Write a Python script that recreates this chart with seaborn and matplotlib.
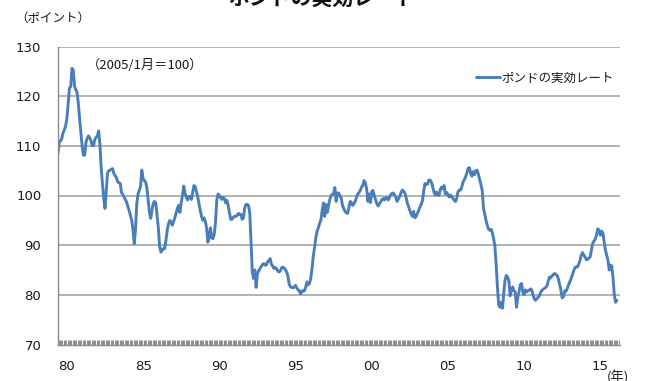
import numpy as np
import pandas as pd
import matplotlib
matplotlib.use("Agg")
import matplotlib.pyplot as plt
import matplotlib.transforms as mtransforms
import seaborn as sns

# Sterling effective exchange rate, monthly, Jan 1980 - Sep 2016 (2005/Jan = 100)
y1980 = [108.5, 110.8, 111.0, 111.5, 112.6, 113.2, 114.0, 115.5, 118.5, 121.6, 121.9, 125.6]
y1981 = [125.3, 122.0, 121.3, 120.8, 118.5, 115.5, 112.8, 110.0, 108.1, 108.1, 110.7, 111.5]
y1982 = [112.0, 111.6, 111.0, 110.0, 110.1, 111.3, 111.7, 112.0, 113.0, 110.3, 105.6, 102.3]
y1983 = [99.5, 97.4, 101.0, 104.5, 105.0, 105.1, 105.3, 105.4, 104.4, 104.0, 103.6, 102.7]
y1984 = [102.6, 102.4, 100.6, 100.2, 99.7, 99.2, 98.7, 97.8, 97.0, 96.0, 95.0, 93.3]
y1985 = [90.3, 93.0, 98.3, 100.3, 101.0, 101.8, 105.1, 103.4, 103.0, 102.7, 101.5, 99.0]
y1986 = [96.6, 95.4, 97.0, 98.4, 98.8, 98.5, 96.0, 93.5, 89.8, 88.6, 89.0, 89.3]
y1987 = [89.3, 91.0, 93.0, 94.3, 95.0, 94.5, 94.0, 94.8, 95.5, 96.5, 97.4, 98.0]
y1988 = [96.6, 98.5, 100.0, 101.9, 100.5, 99.7, 99.1, 99.8, 99.8, 99.2, 100.5, 102.0]
y1989 = [101.8, 100.8, 99.8, 98.3, 97.0, 95.8, 95.0, 95.5, 94.8, 93.5, 90.6, 91.5]
y1990 = [93.5, 91.5, 91.3, 92.2, 94.5, 99.0, 100.3, 100.0, 99.6, 99.2, 99.6, 99.4]
y1991 = [98.5, 99.0, 98.0, 96.5, 95.2, 95.2, 95.6, 95.8, 95.8, 96.0, 96.4, 96.2]
y1992 = [96.2, 95.2, 95.5, 97.5, 98.2, 98.2, 98.0, 96.5, 90.5, 84.5, 83.3, 85.0]
y1993 = [81.5, 84.2, 84.8, 85.3, 85.7, 86.1, 86.3, 86.0, 86.0, 86.6, 86.9, 87.3]
y1994 = [86.2, 85.8, 85.3, 85.5, 85.3, 84.8, 84.6, 84.8, 85.4, 85.6, 85.4, 85.1]
y1995 = [84.6, 83.8, 82.2, 81.6, 81.5, 81.4, 81.6, 81.9, 81.4, 81.0, 80.8, 80.2]
y1996 = [80.8, 80.7, 80.8, 81.5, 82.6, 82.0, 82.3, 83.3, 85.3, 87.8, 89.5, 91.5]
y1997 = [92.8, 93.5, 94.4, 95.0, 97.0, 98.5, 95.8, 98.2, 96.6, 98.0, 99.2, 100.0]
y1998 = [100.2, 100.4, 101.6, 98.8, 100.5, 100.5, 99.9, 99.5, 98.0, 97.4, 96.8, 96.5]
y1999 = [96.4, 97.5, 98.8, 98.6, 98.0, 98.3, 98.8, 99.6, 100.3, 100.6, 101.0, 101.7]
y2000 = [102.0, 103.0, 102.5, 101.4, 98.8, 100.3, 98.6, 100.8, 101.0, 100.0, 99.2, 98.4]
y2001 = [97.9, 98.3, 98.7, 99.2, 99.4, 99.1, 99.5, 99.6, 99.1, 99.6, 100.2, 100.4]
y2002 = [100.5, 100.1, 99.6, 98.8, 99.3, 99.8, 100.5, 101.1, 100.9, 100.6, 99.7, 98.5]
y2003 = [97.8, 97.0, 96.3, 95.8, 96.8, 95.5, 95.8, 96.4, 97.0, 97.7, 98.2, 99.0]
y2004 = [101.0, 102.4, 102.2, 102.3, 103.1, 103.1, 102.7, 101.8, 100.7, 100.1, 100.7, 100.2]
y2005 = [100.0, 101.2, 101.7, 101.4, 102.0, 100.3, 100.6, 100.2, 99.7, 100.1, 99.8, 99.4]
y2006 = [99.0, 98.8, 99.5, 100.8, 101.1, 101.1, 101.8, 102.8, 103.2, 103.8, 104.6, 105.5]
y2007 = [105.6, 104.3, 103.9, 104.8, 104.2, 105.0, 105.1, 104.3, 103.2, 102.2, 101.1, 97.5]
y2008 = [96.2, 95.0, 94.0, 93.2, 93.0, 93.2, 92.5, 91.3, 89.8, 86.0, 81.5, 78.0]
y2009 = [77.5, 78.5, 77.3, 80.5, 83.0, 83.9, 83.6, 82.8, 79.8, 80.8, 81.6, 80.8]
y2010 = [80.6, 77.5, 79.5, 80.6, 82.0, 82.3, 80.5, 80.0, 81.0, 80.6, 80.8, 80.9]
y2011 = [81.2, 81.0, 80.0, 79.2, 78.9, 79.2, 79.5, 79.8, 80.5, 80.9, 81.1, 81.3]
y2012 = [81.5, 81.8, 82.8, 83.6, 83.4, 83.8, 84.1, 84.3, 84.1, 83.9, 83.2, 82.0]
y2013 = [80.9, 79.4, 79.6, 80.8, 80.7, 81.3, 82.0, 82.6, 83.3, 84.0, 84.8, 85.5]
y2014 = [85.6, 85.6, 86.2, 86.9, 88.0, 88.5, 88.0, 87.6, 87.1, 87.1, 87.4, 87.6]
y2015 = [89.0, 90.4, 90.8, 91.2, 92.0, 93.3, 93.0, 92.0, 92.8, 92.5, 90.8, 89.0]
y2016 = [88.0, 87.0, 85.0, 86.0, 85.8, 83.5, 80.0, 78.5, 78.9]

values = (y1980 + y1981 + y1982 + y1983 + y1984 + y1985 + y1986 + y1987 + y1988
          + y1989 + y1990 + y1991 + y1992 + y1993 + y1994 + y1995 + y1996 + y1997
          + y1998 + y1999 + y2000 + y2001 + y2002 + y2003 + y2004 + y2005 + y2006
          + y2007 + y2008 + y2009 + y2010 + y2011 + y2012 + y2013 + y2014 + y2015
          + y2016)

year_labels = ["80", "85", "90", "95", "00", "05", "10", "15"]
y_ticks = [70, 80, 90, 100, 110, 120, 130]
series_name = "ポンドの実効レート"

df = pd.DataFrame({"month": np.arange(len(values)), "rate": values})

sns.set_theme(style="white")
plt.rcParams["font.family"] = ["DejaVu Sans", "Noto Sans CJK JP"]

fig = plt.figure(figsize=(6.51, 3.81), dpi=100)
ax = fig.add_axes([58 / 651, 1 - 344.5 / 381, 562 / 651, 298 / 381])

line_color = "#4A7EBB"
sns.lineplot(data=df, x="month", y="rate", ax=ax, color=line_color,
             linewidth=2.1, legend=False)

ax.set_xlim(0, 442.5)
ax.set_ylim(70, 130)
ax.set_yticks(y_ticks)
ax.set_yticklabels([str(v) for v in y_ticks], fontsize=9.5, color="#1a1a1a")
ax.set_xticks([7 + 60 * i for i in range(len(year_labels))])
ax.set_xticklabels(year_labels, fontsize=9.5, color="#1a1a1a")
ax.tick_params(axis="x", length=0, pad=11)
ax.tick_params(axis="y", length=0, pad=12)
ax.set_xlabel("")
ax.set_ylabel("")

# monthly category tick marks along the bottom axis
month_edges = np.arange(0.5, 442.5, 1.0)
tick_tr = mtransforms.blended_transform_factory(ax.transData, ax.transAxes)
ax.vlines(month_edges, 0, 4.5 / 298, transform=tick_tr, colors="#8c8c8c",
          linewidth=0.7, zorder=1)

for v in y_ticks[1:]:
    ax.axhline(v, color="#a5a5a5", linewidth=1.2, zorder=0)

for side in ["top", "right"]:
    ax.spines[side].set_visible(False)
ax.spines["left"].set_color("#8c8c8c")
ax.spines["left"].set_linewidth(1.0)
ax.spines["bottom"].set_color("#8c8c8c")
ax.spines["bottom"].set_linewidth(1.0)

jp = ["Noto Sans CJK JP", "DejaVu Sans"]
fig.text(322 / 651, 1 - 9 / 381, series_name, fontsize=15, fontweight="bold",
         family=jp, ha="center", va="bottom", color="#111111")
fig.text(15 / 651, 1 - 18 / 381, "（ポイント）", fontsize=9, family=jp,
         ha="left", va="center", color="#1a1a1a")
fig.text(87 / 651, 1 - 65 / 381, "（2005/1月＝100）", fontsize=9.5, family=jp,
         ha="left", va="center", color="#1a1a1a")
fig.text(607 / 651, 1 - 378 / 381, "(年)", fontsize=9.5, family=jp,
         ha="left", va="center", color="#1a1a1a")

handle = ax.lines[0]
leg = fig.legend([handle], [series_name], loc="center right",
                 bbox_to_anchor=(614 / 651, 1 - 78 / 381), frameon=False,
                 prop={"family": jp, "size": 9}, handlelength=1.9,
                 handletextpad=0.15, borderpad=0, borderaxespad=0)
for t in leg.get_texts():
    t.set_color("#1a1a1a")

fig.savefig("out.png", dpi=100)
